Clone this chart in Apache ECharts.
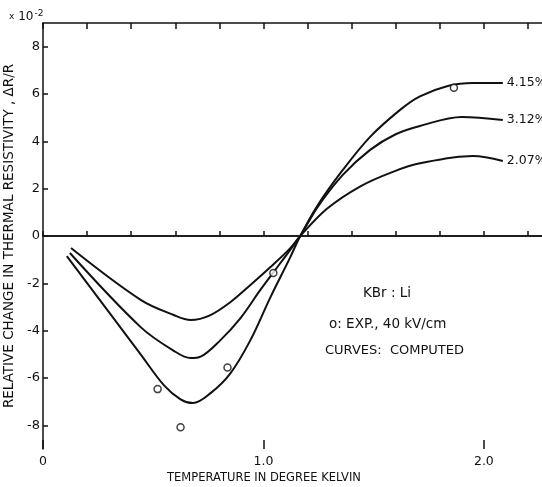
<!DOCTYPE html>
<html>
<head>
<meta charset="utf-8">
<script src="https://cdn.jsdelivr.net/npm/echarts@6/dist/echarts.min.js"></script>
<style>
  html, body { margin: 0; padding: 0; background: #fff; }
  #chart { width: 542px; height: 487px; }
</style>
</head>
<body>
<div id="chart"></div>
<script>
// 读图得到的数据（温度 K, ΔR/R ×10^-2）
const curve415 = [[0.108,-0.85],[0.443,-5.0],[0.548,-6.3],[0.624,-6.9],[0.68,-7.06],[0.76,-6.64],[0.851,-5.79],[0.941,-4.4],[1.032,-2.58],[1.122,-0.89],[1.167,0],[1.244,1.27],[1.36,2.79],[1.484,4.19],[1.62,5.33],[1.71,5.9],[1.84,6.35],[1.95,6.47],[2.086,6.47]];
const curve312 = [[0.122,-0.72],[0.443,-3.85],[0.593,-4.85],[0.67,-5.16],[0.715,-5.1],[0.805,-4.4],[0.896,-3.47],[0.986,-2.28],[1.077,-1.14],[1.167,0],[1.244,1.2],[1.36,2.58],[1.484,3.64],[1.6,4.3],[1.71,4.65],[1.9,5.03],[2.086,4.9]];
const curve207 = [[0.127,-0.51],[0.443,-2.7],[0.593,-3.34],[0.67,-3.55],[0.76,-3.34],[0.851,-2.79],[0.941,-2.07],[1.032,-1.31],[1.122,-0.51],[1.167,0],[1.288,1.15],[1.44,2.1],[1.59,2.72],[1.71,3.07],[1.95,3.38],[2.086,3.17]];
const expPoints = [[0.52,-6.47],[0.624,-8.08],[0.837,-5.56],[1.045,-1.56],[1.864,6.26]];
const curveNames = ['4.15%', '3.12%', '2.07%'];
const yTicks = [-8, -6, -4, -2, 0, 2, 4, 6, 8];
const xLabels = [0, 1, 2];

const chart = echarts.init(document.getElementById('chart'));
const ink = '#111';
const font = 'DejaVu Sans';

const lineSeries = (name, data) => ({
  name,
  type: 'line',
  data,
  smooth: 0.35,
  showSymbol: false,
  lineStyle: { color: ink, width: 2 },
  endLabel: {
    show: true,
    formatter: name,
    color: ink,
    fontFamily: font,
    fontSize: 12.5,
    distance: 4
  },
  z: 3
});

const xCommon = {
  type: 'value',
  min: 0,
  max: 2.3,
  interval: 0.2,
  splitLine: { show: false },
  axisLine: { lineStyle: { color: ink, width: 1.5 } }
};

const option = {
  animation: false,
  grid: { left: 43, top: 23, right: -8, bottom: 38, outerBoundsMode: 'none' },
  xAxis: [
    {
      ...xCommon,
      position: 'bottom',
      axisTick: { inside: true, length: 5, lineStyle: { color: ink, width: 1.5 } },
      axisLabel: {
        customValues: xLabels,
        formatter: v => v === 0 ? '0' : v.toFixed(1),
        color: ink, fontFamily: font, fontSize: 12.5, margin: 6
      }
    },
    {
      ...xCommon,
      position: 'bottom',
      axisLine: { show: false },
      axisTick: { inside: true, length: 9, customValues: xLabels, lineStyle: { color: ink, width: 1.5 } },
      axisLabel: { show: false }
    },
    {
      ...xCommon,
      position: 'top',
      axisTick: { inside: true, length: 6, lineStyle: { color: ink, width: 1.5 } },
      axisLabel: { show: false }
    }
  ],
  yAxis: {
    type: 'value',
    min: -9,
    max: 9,
    splitLine: { show: false },
    axisLine: { lineStyle: { color: ink, width: 1.5 } },
    axisTick: { inside: true, length: 5, customValues: yTicks, lineStyle: { color: ink, width: 1.5 } },
    axisLabel: { customValues: yTicks, color: ink, fontFamily: font, fontSize: 13, margin: 3 },
    name: 'RELATIVE CHANGE IN THERMAL RESISTIVITY , ΔR/R',
    nameLocation: 'middle',
    nameRotate: 90,
    nameGap: 21,
    nameTextStyle: { color: ink, fontFamily: font, fontSize: 13.5 }
  },
  graphic: [
    {
      type: 'text', left: 9, top: 9,
      style: {
        text: '{x|x} 10{s|-2}',
        fontFamily: font, fontSize: 12, fill: ink,
        rich: {
          x: { fontSize: 9, fontFamily: font, fill: ink },
          s: { fontSize: 9, fontFamily: font, fill: ink, verticalAlign: 'top', padding: [0, 0, 6, 1] }
        }
      }
    },
    // x 轴标题以 1.0 为中心（原图如此）
    {
      type: 'text', x: 264, y: 478,
      style: {
        text: 'TEMPERATURE IN DEGREE KELVIN',
        fontFamily: font, fontSize: 11.5, fill: ink,
        align: 'center', verticalAlign: 'middle'
      }
    },
    { type: 'text', left: 363, top: 286, style: { text: 'KBr : Li', fontFamily: font, fontSize: 13.5, fill: ink } },
    { type: 'text', left: 329, top: 317, style: { text: 'o: EXP., 40 kV/cm', fontFamily: font, fontSize: 13.5, fill: ink } },
    { type: 'text', left: 325, top: 344, style: { text: 'CURVES:  COMPUTED', fontFamily: font, fontSize: 13, fill: ink } }
  ],
  series: [
    {
      ...lineSeries(curveNames[0], curve415),
      markLine: {
        silent: true,
        symbol: 'none',
        label: { show: false },
        lineStyle: { color: ink, width: 1.5, type: 'solid' },
        data: [{ yAxis: 0 }]
      }
    },
    lineSeries(curveNames[1], curve312),
    lineSeries(curveNames[2], curve207),
    {
      name: 'EXP.',
      type: 'scatter',
      data: expPoints,
      symbol: 'circle',
      symbolSize: 7,
      itemStyle: { color: '#fff', borderColor: ink, borderWidth: 1.5 },
      z: 4
    }
  ]
};

chart.setOption(option);
</script>
</body>
</html>
